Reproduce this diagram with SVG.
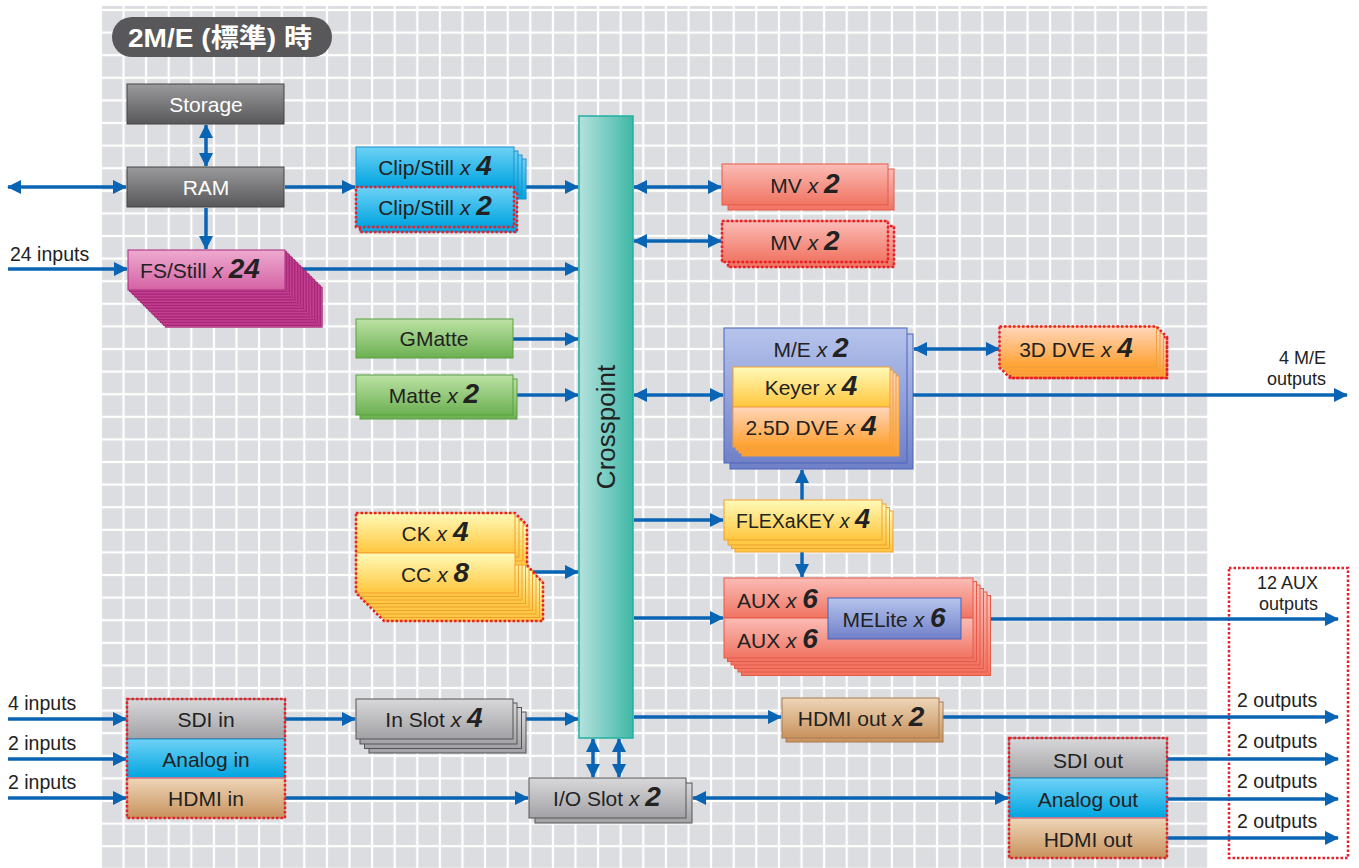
<svg xmlns="http://www.w3.org/2000/svg" xmlns:xlink="http://www.w3.org/1999/xlink" width="1359" height="868" viewBox="0 0 1359 868">
<style>
.t{font-family:"Liberation Sans",Arial,sans-serif;font-size:21px;fill:#222;text-anchor:middle}
.l{font-family:"Liberation Sans",Arial,sans-serif;font-size:19.5px;fill:#222}
.r{font-family:"Liberation Sans",Arial,sans-serif;font-size:18px;fill:#222;text-anchor:end}
.w{fill:#fff}
.x{font-style:italic}
.n{font-weight:bold;font-style:italic;font-size:28px}
.c{stroke:#0a64b4;stroke-width:3.5;fill:none}
.dot{fill:none;stroke:#e8202a;stroke-width:2.5;stroke-dasharray:2.5 2}
.gd{fill:url(#gDark);stroke:#444;stroke-width:1}
.gl{fill:url(#gLight);stroke:#555;stroke-width:1}
.bl{fill:url(#gBlue);stroke:#1a8fd0;stroke-width:1}
.pk{fill:url(#gPink);stroke:#a8287a;stroke-width:1}
.pkb{fill:#cf4c9c;stroke:#a01f70;stroke-width:0.8}
.gr{fill:url(#gGreen);stroke:#5aa040;stroke-width:1}
.ye{fill:url(#gYellow);stroke:#f0a030;stroke-width:1}
.or{fill:url(#gOrange);stroke:#f0a040;stroke-width:1}
.sa{fill:url(#gSalmon);stroke:#e85a48;stroke-width:1}
.pu{fill:url(#gPurple);stroke:#4a62b8;stroke-width:1}
.tn{fill:url(#gTan);stroke:#a87a50;stroke-width:1}
</style>
<defs>
<pattern id="grid" x="123.5" y="10" width="22.6" height="22.6" patternUnits="userSpaceOnUse">
<rect width="22.6" height="22.6" fill="#dcdde0"/>
<rect x="0" y="0" width="1.1" height="22.6" fill="#fff"/>
<rect x="21.5" y="0" width="1.1" height="22.6" fill="#fff"/>
<rect x="0" y="0" width="22.6" height="1.1" fill="#fff"/>
<rect x="0" y="21.5" width="22.6" height="1.1" fill="#fff"/>
</pattern>
<linearGradient id="gDark" x1="0" y1="0" x2="0" y2="1"><stop offset="0" stop-color="#9a9a9c"/><stop offset="1" stop-color="#58585a"/></linearGradient>
<linearGradient id="gLight" x1="0" y1="0" x2="0" y2="1"><stop offset="0" stop-color="#d8d8da"/><stop offset="1" stop-color="#a2a2a6"/></linearGradient>
<linearGradient id="gBlue" x1="0" y1="0" x2="0" y2="1"><stop offset="0" stop-color="#6ed2f6"/><stop offset="1" stop-color="#00a4e0"/></linearGradient>
<linearGradient id="gPink" x1="0" y1="0" x2="0" y2="1"><stop offset="0" stop-color="#eeaad0"/><stop offset="1" stop-color="#d462a4"/></linearGradient>
<linearGradient id="gGreen" x1="0" y1="0" x2="0" y2="1"><stop offset="0" stop-color="#bce2a4"/><stop offset="1" stop-color="#6cb052"/></linearGradient>
<linearGradient id="gYellow" x1="0" y1="0" x2="0" y2="1"><stop offset="0" stop-color="#fffab8"/><stop offset="1" stop-color="#ffc63e"/></linearGradient>
<linearGradient id="gOrange" x1="0" y1="0" x2="0" y2="1"><stop offset="0" stop-color="#ffd6bc"/><stop offset="1" stop-color="#ffa02e"/></linearGradient>
<linearGradient id="gSalmon" x1="0" y1="0" x2="0" y2="1"><stop offset="0" stop-color="#fbbcb6"/><stop offset="1" stop-color="#f07462"/></linearGradient>
<linearGradient id="gPurple" x1="0" y1="0" x2="0" y2="1"><stop offset="0" stop-color="#b6c4ec"/><stop offset="1" stop-color="#7080c8"/></linearGradient>
<linearGradient id="gTan" x1="0" y1="0" x2="0" y2="1"><stop offset="0" stop-color="#eed6b8"/><stop offset="1" stop-color="#c8925e"/></linearGradient>
<linearGradient id="gTeal" x1="0" y1="0" x2="1" y2="0"><stop offset="0" stop-color="#b4e2de"/><stop offset="1" stop-color="#40b8a6"/></linearGradient>
<marker id="ah" viewBox="0 0 14 14" refX="13" refY="7" markerWidth="14" markerHeight="14" markerUnits="userSpaceOnUse" orient="auto-start-reverse">
<path d="M0,0 L14,7 L0,14 z" fill="#0a64b4"/>
</marker>
<rect id="fsr" width="157" height="40" class="pkb"/>
</defs>

<rect x="0" y="0" width="1359" height="868" fill="#fff"/>
<rect x="101" y="6" width="1107" height="862" fill="url(#grid)"/>

<g id="title">
<rect x="112" y="17" width="220" height="40" rx="20" fill="#58585a"/>
<text x="128" y="47" font-family="'Liberation Sans','Noto Sans CJK JP',sans-serif" font-size="26" font-weight="bold" fill="#fff" textLength="184" lengthAdjust="spacingAndGlyphs">2M/E (標準) 時</text>
</g>

<rect id="outputs-frame" x="1229" y="568" width="119" height="290" class="dot"/>

<g id="connectors">
<line class="c" x1="206" y1="125" x2="206" y2="166" marker-start="url(#ah)" marker-end="url(#ah)"/>
<line class="c" x1="8" y1="187" x2="126" y2="187" marker-start="url(#ah)" marker-end="url(#ah)"/>
<line class="c" x1="285" y1="187" x2="355" y2="187" marker-end="url(#ah)"/>
<line class="c" x1="206" y1="208" x2="206" y2="249" marker-end="url(#ah)"/>
<line class="c" x1="520" y1="187" x2="578" y2="187" marker-end="url(#ah)"/>
<line class="c" x1="8" y1="269" x2="127" y2="269" marker-end="url(#ah)"/>
<line class="c" x1="290" y1="269" x2="578" y2="269" marker-end="url(#ah)"/>
<line class="c" x1="513" y1="339" x2="578" y2="339" marker-end="url(#ah)"/>
<line class="c" x1="517" y1="395" x2="578" y2="395" marker-end="url(#ah)"/>
<line class="c" x1="530" y1="572" x2="578" y2="572" marker-end="url(#ah)"/>
<line class="c" x1="8" y1="719" x2="126" y2="719" marker-end="url(#ah)"/>
<line class="c" x1="8" y1="759" x2="126" y2="759" marker-end="url(#ah)"/>
<line class="c" x1="8" y1="798" x2="126" y2="798" marker-end="url(#ah)"/>
<line class="c" x1="285" y1="719" x2="355" y2="719" marker-end="url(#ah)"/>
<line class="c" x1="520" y1="719" x2="578" y2="719" marker-end="url(#ah)"/>
<line class="c" x1="285" y1="798" x2="528" y2="798" marker-end="url(#ah)"/>
<line class="c" x1="593" y1="739" x2="593" y2="777" marker-start="url(#ah)" marker-end="url(#ah)"/>
<line class="c" x1="619" y1="739" x2="619" y2="777" marker-start="url(#ah)" marker-end="url(#ah)"/>
<line class="c" x1="693" y1="798" x2="1008" y2="798" marker-start="url(#ah)" marker-end="url(#ah)"/>
<line class="c" x1="634" y1="187" x2="721" y2="187" marker-start="url(#ah)" marker-end="url(#ah)"/>
<line class="c" x1="634" y1="241" x2="721" y2="241" marker-start="url(#ah)" marker-end="url(#ah)"/>
<line class="c" x1="634" y1="395" x2="723" y2="395" marker-start="url(#ah)" marker-end="url(#ah)"/>
<line class="c" x1="914" y1="349" x2="999" y2="349" marker-start="url(#ah)" marker-end="url(#ah)"/>
<line class="c" x1="910" y1="395" x2="1347" y2="395" marker-end="url(#ah)"/>
<line class="c" x1="634" y1="520" x2="723" y2="520" marker-end="url(#ah)"/>
<line class="c" x1="802" y1="500" x2="802" y2="470" marker-end="url(#ah)"/>
<line class="c" x1="802" y1="552" x2="802" y2="577" marker-end="url(#ah)"/>
<line class="c" x1="634" y1="618" x2="723" y2="618" marker-end="url(#ah)"/>
<line class="c" x1="985" y1="619" x2="1338" y2="619" marker-end="url(#ah)"/>
<line class="c" x1="634" y1="717" x2="781" y2="717" marker-end="url(#ah)"/>
<line class="c" x1="940" y1="717" x2="1338" y2="717" marker-end="url(#ah)"/>
<line class="c" x1="1167" y1="759" x2="1338" y2="759" marker-end="url(#ah)"/>
<line class="c" x1="1167" y1="799" x2="1338" y2="799" marker-end="url(#ah)"/>
<line class="c" x1="1167" y1="838" x2="1338" y2="838" marker-end="url(#ah)"/>
</g>

<g id="edge-labels">
<text class="l" x="10" y="261">24 inputs</text>
<text class="l" x="8" y="710">4 inputs</text>
<text class="l" x="8" y="750">2 inputs</text>
<text class="l" x="8" y="789">2 inputs</text>
<text class="r" x="1326" y="364">4 M/E</text>
<text class="r" x="1326" y="385">outputs</text>
<text class="r" x="1318" y="589">12 AUX</text>
<text class="r" x="1318" y="610">outputs</text>
<text class="l" x="1237" y="707">2 outputs</text>
<text class="l" x="1237" y="748">2 outputs</text>
<text class="l" x="1237" y="788">2 outputs</text>
<text class="l" x="1237" y="828">2 outputs</text>
</g>

<g id="storage">
<rect x="127" y="84" width="157" height="40" class="gd"/>
<text class="t w" x="206" y="112">Storage</text>
</g>

<g id="ram">
<rect x="127" y="167" width="157" height="40" class="gd"/>
<text class="t w" x="206" y="195">RAM</text>
</g>

<g id="clipstill4">
<rect x="368" y="159" width="158" height="40" class="bl"/>
<rect x="364" y="155" width="158" height="40" class="bl"/>
<rect x="360" y="151" width="158" height="40" class="bl"/>
<rect x="356" y="147" width="158" height="40" class="bl"/>
<text class="t" x="435" y="175">Clip/Still <tspan class="x">x</tspan> <tspan class="n">4</tspan></text>
</g>

<g id="clipstill2">
<rect x="360" y="192" width="157" height="40" class="bl"/>
<rect x="360" y="192" width="157" height="40" class="dot"/>
<rect x="356" y="187" width="158" height="40" class="bl"/>
<rect x="356" y="187" width="158" height="40" class="dot"/>
<text class="t" x="435" y="215">Clip/Still <tspan class="x">x</tspan> <tspan class="n">2</tspan></text>
</g>

<g id="fsstill">
<use xlink:href="#fsr" x="165.2" y="287.2"/>
<use xlink:href="#fsr" x="163.65" y="285.65"/>
<use xlink:href="#fsr" x="162.1" y="284.1"/>
<use xlink:href="#fsr" x="160.55" y="282.55"/>
<use xlink:href="#fsr" x="159" y="281"/>
<use xlink:href="#fsr" x="157.45" y="279.45"/>
<use xlink:href="#fsr" x="155.9" y="277.9"/>
<use xlink:href="#fsr" x="154.35" y="276.35"/>
<use xlink:href="#fsr" x="152.8" y="274.8"/>
<use xlink:href="#fsr" x="151.25" y="273.25"/>
<use xlink:href="#fsr" x="149.7" y="271.7"/>
<use xlink:href="#fsr" x="148.15" y="270.15"/>
<use xlink:href="#fsr" x="146.6" y="268.6"/>
<use xlink:href="#fsr" x="145.05" y="267.05"/>
<use xlink:href="#fsr" x="143.5" y="265.5"/>
<use xlink:href="#fsr" x="141.95" y="263.95"/>
<use xlink:href="#fsr" x="140.4" y="262.4"/>
<use xlink:href="#fsr" x="138.85" y="260.85"/>
<use xlink:href="#fsr" x="137.3" y="259.3"/>
<use xlink:href="#fsr" x="135.75" y="257.75"/>
<use xlink:href="#fsr" x="134.2" y="256.2"/>
<use xlink:href="#fsr" x="132.65" y="254.65"/>
<use xlink:href="#fsr" x="131.1" y="253.1"/>
<use xlink:href="#fsr" x="129.55" y="251.55"/>
<rect x="128" y="250" width="157" height="40" class="pk"/>
<text class="t" x="200" y="278">FS/Still <tspan class="x">x</tspan> <tspan class="n">24</tspan></text>
</g>

<g id="gmatte">
<rect x="356" y="319" width="157" height="39" class="gr"/>
<text class="t" x="434" y="346">GMatte</text>
</g>

<g id="matte">
<rect x="360" y="379" width="157" height="40" class="gr"/>
<rect x="356" y="375" width="157" height="40" class="gr"/>
<text class="t" x="434" y="403">Matte <tspan class="x">x</tspan> <tspan class="n">2</tspan></text>
</g>

<g id="ckcc">
<rect x="384" y="581" width="159" height="40" class="ye"/>
<rect x="380.5" y="577.5" width="159" height="40" class="ye"/>
<rect x="377" y="574" width="159" height="40" class="ye"/>
<rect x="373.5" y="570.5" width="159" height="40" class="ye"/>
<rect x="370" y="567" width="159" height="40" class="ye"/>
<rect x="366.5" y="563.5" width="159" height="40" class="ye"/>
<rect x="363" y="560" width="159" height="40" class="ye"/>
<rect x="359.5" y="556.5" width="159" height="40" class="ye"/>
<rect x="368" y="525" width="159" height="40" class="ye"/>
<rect x="364" y="521" width="159" height="40" class="ye"/>
<rect x="360" y="517" width="159" height="40" class="ye"/>
<rect x="356" y="513" width="159" height="40" class="ye"/>
<rect x="356" y="553" width="159" height="40" class="ye"/>
<path d="M356,513 H515 L527,525 V565 L543,583 V621 H384 L356,593 Z" class="dot"/>
<text class="t" x="435" y="541">CK <tspan class="x">x</tspan> <tspan class="n">4</tspan></text>
<text class="t" x="435" y="582">CC <tspan class="x">x</tspan> <tspan class="n">8</tspan></text>
</g>

<g id="crosspoint">
<rect x="579" y="116" width="54" height="622" fill="url(#gTeal)" stroke="#22b0a0" stroke-width="1.5"/>
<text class="t" x="0" y="0" transform="translate(615,427) rotate(-90)" style="font-size:26px">Crosspoint</text>
</g>

<g id="mv1">
<rect x="728" y="169" width="166" height="41" class="sa"/>
<rect x="722" y="164" width="166" height="41" class="sa"/>
<text class="t" x="805" y="193">MV <tspan class="x">x</tspan> <tspan class="n">2</tspan></text>
</g>

<g id="mv2">
<rect x="728" y="226" width="166" height="41" class="sa"/>
<rect x="728" y="226" width="166" height="41" class="dot"/>
<rect x="722" y="221" width="166" height="41" class="sa"/>
<rect x="722" y="221" width="166" height="41" class="dot"/>
<text class="t" x="805" y="250">MV <tspan class="x">x</tspan> <tspan class="n">2</tspan></text>
</g>

<g id="me">
<rect x="730" y="334" width="183" height="135" class="pu"/>
<rect x="724" y="328" width="183" height="135" class="pu"/>
<text class="t" x="811" y="357">M/E <tspan class="x">x</tspan> <tspan class="n">2</tspan></text>
<rect x="742" y="376" width="157" height="80" class="or"/>
<rect x="739" y="373" width="157" height="80" class="or"/>
<rect x="736" y="370" width="157" height="80" class="or"/>
<rect x="733" y="367" width="157" height="40" class="ye"/>
<rect x="733" y="407" width="157" height="40" class="or"/>
<text class="t" x="811" y="395">Keyer <tspan class="x">x</tspan> <tspan class="n">4</tspan></text>
<text class="t" x="811" y="435">2.5D DVE <tspan class="x">x</tspan> <tspan class="n">4</tspan></text>
</g>

<g id="dve3d">
<rect x="1010" y="337" width="157" height="41" class="or"/>
<rect x="1010" y="337" width="157" height="41" class="dot"/>
<rect x="1006.5" y="333.5" width="157" height="41" class="or"/>
<rect x="1003" y="330" width="157" height="41" class="or"/>
<rect x="999.5" y="326.5" width="157" height="41" class="or"/>
<path d="M999.5,326.5 H1156.5 L1167,337 V378 H1010 L999.5,367.5 Z" class="dot"/>
<text class="t" x="1076" y="357">3D DVE <tspan class="x">x</tspan> <tspan class="n">4</tspan></text>
</g>

<g id="flexakey">
<rect x="735" y="511" width="158" height="41" class="ye"/>
<rect x="731.5" y="507.5" width="158" height="41" class="ye"/>
<rect x="728" y="504" width="158" height="41" class="ye"/>
<rect x="724" y="500" width="158" height="40" class="ye"/>
<text class="t" x="803" y="528" style="font-size:19.5px">FLEXaKEY <tspan class="x">x</tspan> <tspan class="n" style="font-size:27px">4</tspan></text>
</g>

<g id="aux">
<rect x="741.5" y="595.5" width="249" height="80" class="sa"/>
<rect x="738" y="592" width="249" height="80" class="sa"/>
<rect x="734.5" y="588.5" width="249" height="80" class="sa"/>
<rect x="731" y="585" width="249" height="80" class="sa"/>
<rect x="727.5" y="581.5" width="249" height="80" class="sa"/>
<rect x="724" y="578" width="249" height="40" class="sa"/>
<rect x="724" y="618" width="249" height="40" class="sa"/>
<text class="t" x="737" y="608" style="text-anchor:start">AUX <tspan class="x">x</tspan> <tspan class="n">6</tspan></text>
<text class="t" x="737" y="648" style="text-anchor:start">AUX <tspan class="x">x</tspan> <tspan class="n">6</tspan></text>
</g>

<g id="melite">
<rect x="828" y="598" width="133" height="41" class="pu"/>
<text class="t" x="894" y="627">MELite <tspan class="x">x</tspan> <tspan class="n">6</tspan></text>
</g>

<g id="inputs">
<rect x="127" y="699" width="158" height="40" class="gl" stroke="none"/>
<rect x="127" y="739" width="158" height="39" class="bl"/>
<rect x="127" y="778" width="158" height="40" class="tn"/>
<line x1="127" y1="778" x2="285" y2="778" stroke="#e07a90" stroke-width="1.5"/>
<rect x="127" y="699" width="158" height="119" class="dot"/>
<text class="t" x="206" y="727">SDI in</text>
<text class="t" x="206" y="767">Analog in</text>
<text class="t" x="206" y="806">HDMI in</text>
</g>

<g id="inslot">
<rect x="369" y="712" width="157" height="41" class="gl"/>
<rect x="364.5" y="707.5" width="157" height="41" class="gl"/>
<rect x="360" y="703" width="157" height="41" class="gl"/>
<rect x="356" y="699" width="157" height="40" class="gl"/>
<text class="t" x="434" y="727">In Slot <tspan class="x">x</tspan> <tspan class="n">4</tspan></text>
</g>

<g id="ioslot">
<rect x="535" y="783" width="157" height="40" class="gl"/>
<rect x="529" y="778" width="157" height="40" class="gl"/>
<text class="t" x="607" y="806">I/O Slot <tspan class="x">x</tspan> <tspan class="n">2</tspan></text>
</g>

<g id="hdmiout2">
<rect x="786" y="702" width="157" height="40" class="tn"/>
<rect x="782" y="698" width="157" height="40" class="tn"/>
<text class="t" x="861" y="726">HDMI out <tspan class="x">x</tspan> <tspan class="n">2</tspan></text>
</g>

<g id="outputs">
<rect x="1009" y="738" width="158" height="40" class="gl" stroke="none"/>
<rect x="1009" y="778" width="158" height="40" class="bl"/>
<rect x="1009" y="818" width="158" height="40" class="tn"/>
<line x1="1009" y1="818" x2="1167" y2="818" stroke="#e07a90" stroke-width="1.5"/>
<rect x="1009" y="738" width="158" height="120" class="dot"/>
<text class="t" x="1088" y="768">SDI out</text>
<text class="t" x="1088" y="807">Analog out</text>
<text class="t" x="1088" y="847">HDMI out</text>
</g>
</svg>
